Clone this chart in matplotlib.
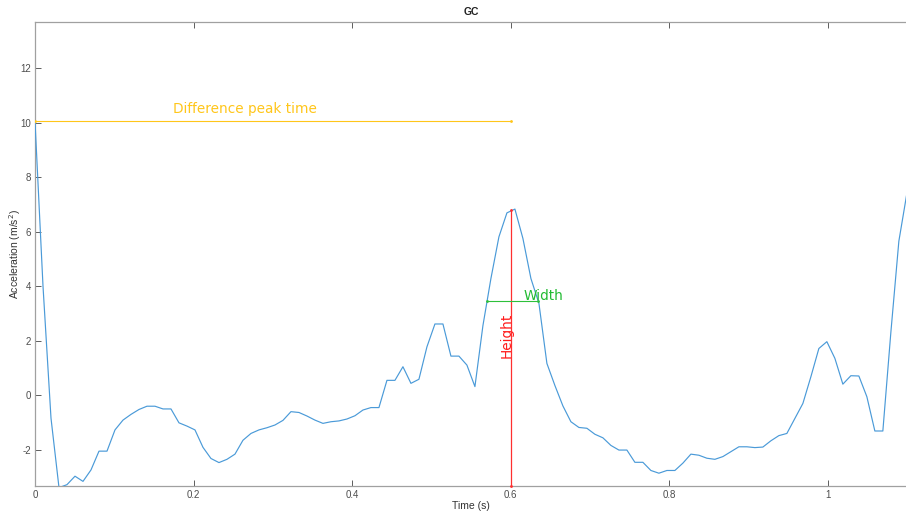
import numpy as np
import matplotlib
matplotlib.use("Agg")
import matplotlib.pyplot as plt

# acceleration trace, sampled at ~99 Hz
dt = 0.01009
accel = [10.06, 4.0, -0.85, -3.4, -3.29, -2.98, -3.17, -2.75, -2.06, -2.06,
         -1.28, -0.92, -0.71, -0.53, -0.41, -0.41, -0.51, -0.51, -1.02, -1.14,
         -1.28, -1.92, -2.33, -2.48, -2.36, -2.17, -1.66, -1.41, -1.28, -1.2,
         -1.1, -0.93, -0.61, -0.64, -0.77, -0.92, -1.04, -0.98, -0.95, -0.88,
         -0.76, -0.55, -0.46, -0.46, 0.54, 0.54, 1.04, 0.43, 0.58, 1.77,
         2.61, 2.61, 1.43, 1.43, 1.10, 0.31, 2.55, 4.28, 5.81, 6.69,
         6.83, 5.75, 4.28, 3.37, 1.16, 0.35, -0.40, -0.98, -1.19, -1.22,
         -1.44, -1.57, -1.85, -2.02, -2.02, -2.47, -2.47, -2.77, -2.87, -2.77,
         -2.77, -2.5, -2.17, -2.21, -2.32, -2.36, -2.26, -2.08, -1.90, -1.90,
         -1.93, -1.91, -1.68, -1.49, -1.41, -0.86, -0.31, 0.67, 1.71, 1.96,
         1.35, 0.40, 0.71, 0.70, -0.06, -1.32, -1.32, 2.3, 5.65, 7.4]
time = np.arange(len(accel)) * dt

# peak features
t_start = 0.0
t_peak = 0.6
start_val = 10.06
peak_height = 6.78
width_level = 3.45
width_left = 0.570
width_right = 0.634

x_ticks = [0, 0.2, 0.4, 0.6, 0.8, 1]
x_tick_labels = ["0", "0.2", "0.4", "0.6", "0.8", "1"]
y_ticks = [-2, 0, 2, 4, 6, 8, 10, 12]
y_tick_labels = ["-2", "0", "2", "4", "6", "8", "10", "12"]

fig = plt.figure(figsize=(9.06, 5.11), dpi=100)
ax = fig.add_axes([35 / 906, 25 / 511, 872 / 906, 464 / 511])

ax.plot(time, accel, color="#4A9AD8", lw=0.85, zorder=3)

ylo, yhi = -3.34, 13.70
ax.set_xlim(0, 1.1)
ax.set_ylim(ylo, yhi)

# time between start and peak
ax.plot([t_start, t_peak], [start_val, start_val], color="#FFC61A", lw=0.8,
        marker=".", markersize=2, zorder=4)
ax.text(0.174, 10.5, "Difference peak time", color="#FFC61A", fontsize=9.8,
        ha="left", va="center")

# peak height
ax.plot([t_peak, t_peak], [ylo, peak_height], color="#FF3030", lw=0.9,
        marker=".", markersize=2, zorder=4, clip_on=False)
ax.text(0.595, 2.2, "Height", color="#FF1A1A", fontsize=9.8, rotation=90,
        ha="center", va="center")

# width at half height
ax.plot([width_left, width_right], [width_level, width_level], color="#2EC03A",
        lw=0.8, marker=".", markersize=2, zorder=4)
ax.text(0.616, 3.65, "Width", color="#22BB33", fontsize=9.8,
        ha="left", va="center")

ax.set_xticks(x_ticks)
ax.set_xticklabels(x_tick_labels)
ax.set_yticks(y_ticks)
ax.set_yticklabels(y_tick_labels)
ax.tick_params(direction="in", length=4.5, width=0.6, color="#444444",
               labelsize=7, labelcolor="#4D4D4D", top=True, right=False, pad=3)
for side in ["left", "bottom", "top", "right"]:
    ax.spines[side].set_color("#A0A0A0")
    ax.spines[side].set_linewidth(0.9)

ax.set_xlabel("Time (s)", fontsize=7.5, color="#333333", va="center",
              family="Liberation Sans")
ax.xaxis.set_label_coords(0.5, -20 / 464)
ax.set_ylabel("Acceleration (m/s$^2$)", fontsize=7.5, color="#333333", va="center",
              family="Liberation Sans")
ax.yaxis.set_label_coords(-20 / 872, 0.5)
ax.set_title("GC", fontsize=7.5, fontweight="bold", color="#222222", pad=5,
             family="Liberation Sans")
for lbl in ax.get_xticklabels() + ax.get_yticklabels():
    lbl.set_family("Liberation Sans")

fig.savefig("out.png", dpi=100)
